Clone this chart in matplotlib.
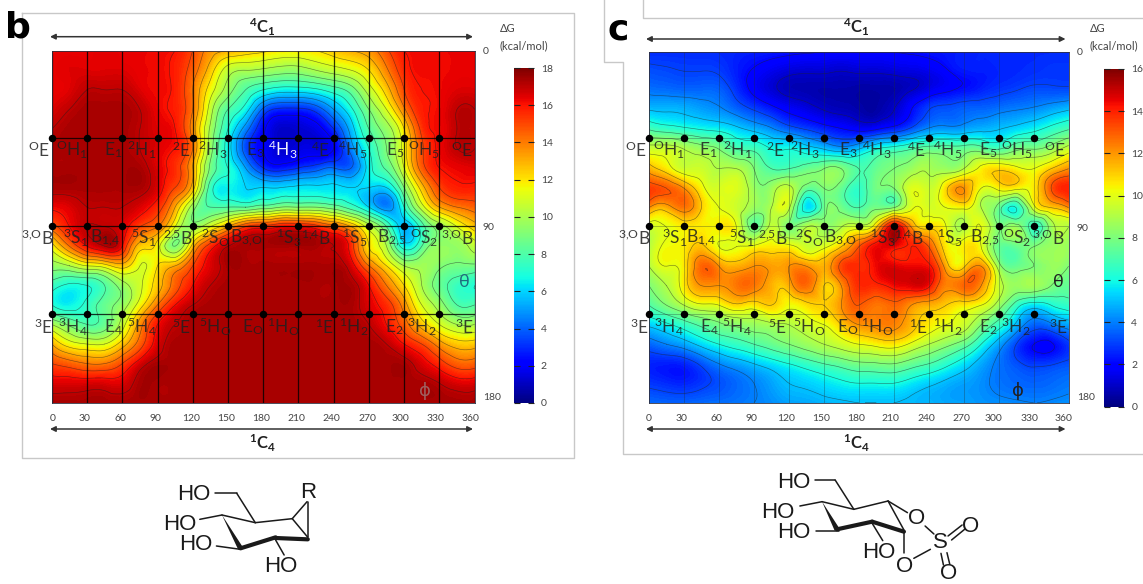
import numpy as np
import matplotlib
matplotlib.use("Agg")
import matplotlib.pyplot as plt
import matplotlib.tri as mtri
from matplotlib.cm import ScalarMappable
from matplotlib.colors import Normalize

plt.rcParams['font.family'] = 'Lato'
plt.rcParams['mathtext.default'] = 'regular'

W, H = 1143, 584

phi = list(range(0, 361, 15))
theta = list(range(0, 181, 10))

# Panel b free energy (rows: theta 0..180, columns: phi 0..360)
energy_b = [
 [16.2,16.3,16.3,16.5,16.3,16.3,16.2,16,15,13.5,13,12.5,12.2,11.8,11.8,12,12.5,13,13.5,14.8,16,16.2,16.2,16.3,16.3],
 [16.3,16.5,16.5,16.5,16.5,16.3,16.2,15.8,14.5,12.5,10.5,10,9.8,9.5,9.5,10,10.5,11,12,13.8,15.6,16.2,16.2,16.3,16.3],
 [16.3,16.5,17,17,17,16.5,16.2,15.8,14,11.5,9.5,8,7,6.5,6.5,6.8,7.5,8.5,10.5,12.5,15,16,16.2,16.5,16.5],
 [16.5,17,17.3,17.3,17.3,17,16.3,15.8,14,10.5,8,6.5,3.8,2.8,2.8,3.4,5,6.8,9,11,13.8,15.8,16.2,17,17],
 [17,17.3,17.3,17.3,17.3,17,16.5,16,13.5,9.8,7,4.5,2.2,1.2,1.3,1.6,3,5.5,8,9.5,12,15.3,16.2,17,17],
 [17.3,17.3,17.3,17.3,17.3,17,16.5,16,14,9.5,6.5,3.5,2,1.3,1.5,1.5,2,4.5,7,9,11.5,14.8,16.2,17,17],
 [17.3,17.3,17.3,17.3,17.3,17.3,16.5,15.5,13,8.8,7,5,3,2.5,3,3.5,4,4,6.5,8.2,11,14.5,16,16.3,16.5],
 [17.3,17.3,17.3,17.3,17.3,17.3,16.5,15,12.5,7.5,6.5,6,6,6,6.2,6.2,6.2,6,6,6,9,12.5,15,15.8,15.8],
 [16.2,16.5,17,17,17,16.5,15.5,13,9.5,8,8,8,8.5,9,9,9,8.5,7.5,6,4.5,7,10.5,13,14,14.5],
 [14.5,16,17,17,16.5,15,14,11,9.5,11,13,15,15.5,16,16,15.5,14.5,13,10.5,8,5.5,7.5,9.5,11,12.5],
 [11.5,14,16,17,16,12.5,11.5,9,12.5,15.5,17,17.3,17.3,17.3,17.3,17.3,17,15.5,12,10,6.5,8,9.5,9.5,10.5],
 [9.5,10,11,11.5,12.5,11,12,13,15,16.5,17.3,17.3,17.3,17.3,17.3,17.3,17.3,16.5,14,12,10,9.8,9.2,8.8,8.8],
 [7.5,6.8,7,8,9.5,10.8,12.5,14.5,16,17,17.3,17.3,17.3,17.3,17.3,17.3,17.3,17.3,16,14,12,10,8.5,7.5,7],
 [7,6.5,7.3,8.5,9.5,11.5,14,16,17,17.3,17.3,17.3,17.3,17.3,17.3,17.3,17.3,17.3,16.5,15.5,13.5,11,9.5,8,8],
 [10,8.8,8,8.5,10.5,13.5,16,17,17.3,17.3,17.3,17.3,17.3,17.3,17.3,17.3,17.3,17.3,17,16,14.5,12.5,11,10,10],
 [13,11.5,11,11,12.5,14.5,16.5,17.3,17.3,17.3,17.3,17.3,17.3,17.3,17.3,17.3,17.3,17.3,17.3,17,16,15,13.5,12.5,12.5],
 [15,14.5,14,14,15,16.5,17.3,17.3,17.3,17.3,17.3,17.3,17.3,17.3,17.3,17.3,17.3,17.3,17.3,17.3,17.3,16.5,15.5,14.5,14.5],
 [16.5,16.5,16.5,16.5,16.5,17.3,17.3,17.3,17.3,17.3,17.3,17.3,17.3,17.3,17.3,17.3,17.3,17.3,17.3,17.3,17.3,17.3,17,16.5,16.5],
 [17.3,17.3,17.3,17.3,17.3,17.3,17.3,17.3,17.3,17.3,17.3,17.3,17.3,17.3,17.3,17.3,17.3,17.3,17.3,17.3,17.3,17.3,17.3,17.3,17.3],
]

# Panel c free energy
energy_c = [
 [2.6,2.6,2.6,2.6,2.6,2.5,2.4,2.3,2.2,2.1,2,2,2,2,2,2.1,2.2,2.3,2.4,2.5,2.5,2.6,2.6,2.6,2.6],
 [3.2,3.1,3,3,2.9,2.4,1.9,1.5,1.2,1.1,1.1,1,1.1,1.1,1.2,1.3,1.5,1.9,2.3,2.4,2.5,2.6,2.7,2.8,2.8],
 [3.8,3.7,3.6,3.6,3.5,2.7,1.8,1.2,0.8,0.7,0.6,0.6,0.5,0.5,0.6,1,1.5,1.9,2.2,2.5,2.8,3,3.2,3.2,3.2],
 [5,4.9,4.8,4.5,4.2,3.6,3,2.4,1.8,1.4,1,0.8,0.6,0.5,1,2,3,3.3,3.5,3.6,3.8,4,4.2,4.6,5],
 [7,6.6,6.3,6,5.8,5.3,4.8,4.2,3.5,3,2.5,2.1,1.8,2,2.5,3.3,4.2,4.4,4.5,4.8,5,5.4,5.8,6.4,7],
 [9.5,9.5,9,8.5,8,7,6.8,6,6,5.5,5,4.5,5,6,6.5,7,7.5,7.5,7.5,7.5,7,7.8,8,8.5,9.5],
 [11.5,10.5,9.5,9.5,9,9,8,7,7,7.5,8,8,7,7.5,8,8.5,8.8,8.5,9,10.3,10.8,10.3,10,11,12],
 [13.5,13,12,10.3,9.7,9.8,8.5,8.5,9.3,7.5,8,7.5,6.5,7.8,8,9.8,9.5,10.8,12,10,10.3,10.3,10.5,13,14],
 [12,11.5,12.5,11,10,9.5,8.5,9,9.2,5.5,7.5,7.7,7,7.8,8,9.8,9.7,10,10.2,9,7.5,6,9.5,11,12],
 [9.5,10,10.5,10.5,10.5,10,7.5,9.3,8,9,8.5,9,9.5,11,14.8,12,10.8,10,9,10,8,8.5,6.5,8.5,9],
 [9,10.2,10.5,11.2,10,10,10.2,10.5,10.3,9.5,9.8,11,13,14.4,14.4,14,13,10.5,10.5,10,7.5,7.5,8,8.5,8.5],
 [9,10,10.5,12.8,12,11.5,12,11.8,12,12,11.5,13.3,13.8,14.4,14.6,14.4,14.2,11.5,10.8,12,8.5,7.5,8,8.5,8],
 [8,9,10.5,12,12,12.5,12.5,11.5,11.5,12.7,11,12,13.8,13.8,14.3,14.6,14.2,12.3,12.8,12,9.5,8.5,8.7,8,7.5],
 [7,8,9,9.8,10,10.8,10.5,11,10.2,10.7,11,12,13,12.5,12.8,12,11.5,11,10.5,10,8.5,6.5,5.5,6,6.5],
 [5.2,5.8,6.5,7.2,7.8,8.2,8.5,8.8,9,9.5,10,11,12,12.2,12.3,11.4,10.5,10,9.5,8,6.5,4.8,3.5,3.8,4.5],
 [3.5,4,4.5,5.3,6,6.5,7,7.5,8,8.5,9,9.5,10,10.3,10.5,9.8,9,8.3,7.5,6,4.5,3,2,1.9,2.8],
 [2.5,2.4,2.5,3.2,4,4.5,5,5.5,6,6.5,7,7.4,7.8,7.9,8,7.5,7,6.3,5.5,4.6,3.8,3.2,2.8,2.9,3.2],
 [2.8,2.6,2.5,2.8,3.2,3.6,4,4.5,5,5.2,5.5,5.8,6,6,6,5.6,5.2,4.8,4.5,4.2,3.8,3.6,3.5,3.6,3.8],
 [3.6,3.5,3.5,3.6,3.7,3.8,4,4.2,4.5,4.6,4.8,4.9,5,5,5,4.9,4.8,4.6,4.5,4.3,4.2,4.1,4,4.1,4.2],
]

vmax_b, vmax_c = 18, 16
xtick_values = [0, 30, 60, 90, 120, 150, 180, 210, 240, 270, 300, 330, 360]
ytick_values = [0, 90, 180]
dot_phi = list(range(0, 331, 30))
dot_theta = [44.5, 89.5, 134.5]
grid_phi = list(range(0, 361, 30))

row1 = [r'$^{O}$E', r'$^{O}$H$_{1}$', r'E$_{1}$', r'$^{2}$H$_{1}$', r'$^{2}$E', r'$^{2}$H$_{3}$', r'E$_{3}$',
        r'$^{4}$H$_{3}$', r'$^{4}$E', r'$^{4}$H$_{5}$', r'E$_{5}$', r'$^{O}$H$_{5}$', r'$^{O}$E']
row2 = [r'$^{3{,}O}$B', r'$^{3}$S$_{1}$', r'B$_{1{,}4}$', r'$^{5}$S$_{1}$', r'$^{2{,}5}$B', r'$^{2}$S$_{O}$', r'B$_{3{,}O}$',
        r'$^{1}$S$_{3}$', r'$^{1{,}4}$B', r'$^{1}$S$_{5}$', r'B$_{2{,}5}$', r'$^{O}$S$_{2}$', r'$^{3{,}O}$B']
row3 = [r'$^{3}$E', r'$^{3}$H$_{4}$', r'E$_{4}$', r'$^{5}$H$_{4}$', r'$^{5}$E', r'$^{5}$H$_{O}$', r'E$_{O}$',
        r'$^{1}$H$_{O}$', r'$^{1}$E', r'$^{1}$H$_{2}$', r'E$_{2}$', r'$^{3}$H$_{2}$', r'$^{3}$E']

# layout (pixels)
lx_b = [[39,72,113,142,181,213,255,283,320,353,395,424,462],
        [37,76,105,144,178,215,246,289,316,355,392,424,457],
        [43,73,113,142,181,215,253,283,324,354,394,422,464]]
lx_c = [[636,669,708,738,775,805,848,877,916,948,988,1017,1055],
        [634,675,701,742,773,809,840,883,909,950,985,1017,1048],
        [639,669,709,737,777,809,848,877,918,948,988,1016,1058]]
ly = [150, 238, 327]
tick_x_b = [53,84,120,155,191,226,261,296,331,367,400,435,470]
tick_x_c = [649,681,716,751,786,821,856,890,926,961,993,1029,1063]

fig = plt.figure(figsize=(W/100, H/100), dpi=100, facecolor='white')
bg = fig.add_axes([0, 0, 1, 1], zorder=0)
bg.set_xlim(0, W); bg.set_ylim(H, 0); bg.axis('off')
over = fig.add_axes([0, 0, 1, 1], zorder=5)
over.set_xlim(0, W); over.set_ylim(H, 0); over.axis('off'); over.patch.set_alpha(0)

def px_axes(x0, y0, x1, y1, **kw):
    return fig.add_axes([x0/W, 1-y1/H, (x1-x0)/W, (y1-y0)/H], **kw)

def panel(box, cbox, z, vmax, line_col, line_alpha, lw_grid, tick_x, lx, white_center):
    ax = px_axes(*box, zorder=2)
    P, T = np.meshgrid(phi, theta)
    tri = mtri.Triangulation(P.ravel().astype(float), T.ravel().astype(float))
    fine_tri, fine_z = mtri.UniformTriRefiner(tri).refine_field(np.array(z, float).ravel(), subdiv=3)
    ax.tricontourf(fine_tri, fine_z, levels=np.linspace(0, vmax, vmax*8+1), cmap='jet',
                   vmin=0, vmax=vmax, antialiased=False, extend='both')
    ax.tricontour(fine_tri, fine_z, levels=np.arange(1, vmax, 1), colors='#202020', linewidths=0.45, alpha=0.55)
    for p in grid_phi:
        ax.axvline(p, color=line_col, lw=lw_grid, alpha=line_alpha)
    for t in dot_theta:
        ax.axhline(t, color=line_col, lw=lw_grid, alpha=line_alpha)
        ax.plot(dot_phi, [t]*len(dot_phi), 'o', color='black', ms=5.4, mec='none', clip_on=False, zorder=6)
    ax.set_xlim(0, 360); ax.set_ylim(180, 0)
    to_phi = lambda x: (x-box[0])/(box[2]-box[0])*360
    ax.set_xticks([to_phi(x) for x in tick_x], [str(v) for v in xtick_values])
    ax.set_yticks([0, 90, 177], [str(v) for v in ytick_values])
    ax.yaxis.tick_right()
    ax.tick_params(length=0, labelsize=7.5, labelcolor='#444444', pad=6)
    ax.tick_params(axis='x', pad=8)
    for s in ax.spines.values():
        s.set_linewidth(0.6); s.set_color('#303040')
    cax = px_axes(*cbox, zorder=2)
    cb = fig.colorbar(ScalarMappable(Normalize(0, vmax), 'jet'), cax=cax, ticks=list(range(0, vmax+1, 2)))
    cb.outline.set_visible(False)
    cax.tick_params(direction='in', length=4, width=0.8, left=True, right=True, color='#222222',
                    labelsize=7.5, labelcolor='#444444', pad=5)
    for rowi, labs in enumerate([row1, row2, row3]):
        for x, s in zip(lx[rowi], labs):
            col = '#202020'
            alpha = 0.85
            if white_center and rowi == 0 and s == r'$^{4}$H$_{3}$':
                col, alpha = 'white', 0.95
            over.text(x, ly[rowi], s, ha='center', va='center', fontsize=12.5, color=col, alpha=alpha)

panel((51.8, 50.7, 474.6, 402.7), (514, 68, 534, 403), energy_b, vmax_b, 'black', 0.8, 0.9, tick_x_b, lx_b, True)
panel((649, 51.7, 1068.6, 402.7), (1104, 69, 1124.4, 406.7), energy_c, vmax_c, '#203030', 0.45, 0.5, tick_x_c, lx_c, False)

# frames
frame = dict(color='#c8c8c8', lw=1.0)
bg.plot([22, 573.5, 573.5, 22, 22], [13, 13, 458, 458, 13], **frame)
bg.plot([604, 604, 622.5, 622.5, 1143], [0, 62, 62, 454, 454], **frame)
bg.plot([643, 643, 1143], [0, 18, 18], **frame)

# arrows and conformer labels
def arrow(x0, x1, y):
    over.annotate('', xy=(x0, y), xytext=(x1, y),
                  arrowprops=dict(arrowstyle='<|-|>', color='#333333', lw=1.1, mutation_scale=8, shrinkA=0, shrinkB=0))
arrow(50, 473, 36.7); arrow(50, 473, 429)
arrow(646, 1065.5, 39); arrow(646, 1065.5, 429)
for x in (262, 856):
    over.text(x, 27, r'$^{4}$C$_{1}$', ha='center', va='center', fontsize=12, fontweight='bold', color='#222222')
    over.text(x, 443, r'$^{1}$C$_{4}$', ha='center', va='center', fontsize=12, fontweight='bold', color='#222222')
for x, t in ((18, 'b'), (618, 'c')):
    over.text(x, 28 if t == 'b' else 29, t, ha='center', va='center', fontsize=26, fontweight='bold',
              family='DejaVu Sans', color='black')
for x in (500, 1090):
    over.text(x, 29, 'ΔG', ha='left', va='center', fontsize=8, color='#444444')
    over.text(x, 46, '(kcal/mol)', ha='left', va='center', fontsize=8, color='#444444')
over.text(464, 282, 'θ', ha='center', va='center', fontsize=13, color='#1f6f80')
over.text(425, 391, 'ϕ', ha='center', va='center', fontsize=13, color='#a06060', family='DejaVu Sans')
over.text(1058, 282, 'θ', ha='center', va='center', fontsize=13, color='#202020')
over.text(1018, 391, 'ϕ', ha='center', va='center', fontsize=13, color='#202020', family='DejaVu Sans')

# chemical structures
def bonds(segments, sx, x0, y0, lw=1.1, color='#1a1a1a'):
    for a, b, c, d in segments:
        bg.plot([a/sx+x0, c/sx+x0], [b/3+y0, d/3+y0], color=color, lw=lw, solid_capstyle='round')

def wedge(a, b, c, d, sx, x0, y0, w=2.6, color='#1a1a1a'):
    x1, y1, x2, y2 = a/sx+x0, b/3+y0, c/sx+x0, d/3+y0
    nx, ny = -(y2-y1), x2-x1
    n = np.hypot(nx, ny); nx, ny = nx/n*w, ny/n*w
    bg.fill([x1, x2+nx, x2-nx], [y1, y2+ny, y2-ny], color=color, lw=0)

bonds([(582,790,640,790),(640,790,690,878),(690,878,790,866),(790,866,830,815),(790,866,832,922),
       (832,815,832,922),(690,878,600,855),(600,855,540,868),(585,948,650,958),(745,930,768,975)], 2.703, 0, 230)
wedge(600,855,650,955,2.703,0,230)
bonds([(650,955,745,922),(745,924,832,928)], 2.703, 0, 230, lw=3.0)
bonds([(637,750,695,750),(695,750,748,838),(748,838,845,813),(845,813,900,848),(845,813,890,900),
       (748,838,658,815),(658,815,595,828),(640,902,705,902),(800,880,830,932),(890,905,890,968),
       (950,888,975,912),(918,985,965,958),(1015,918,1055,885),(1025,930,1062,898),
       (995,970,1002,1005),(1012,968,1020,1003)], 2.835, 590, 230)
wedge(658,815,700,898,2.835,590,230)
bonds([(700,898,800,875),(800,875,890,905)], 2.835, 590, 230, lw=3.0)

chem = dict(ha='center', va='center', fontsize=16, family='Liberation Sans', color='#1a1a1a')
for x, y, t in [(194,495,'HO'),(180,525,'HO'),(196,545,'HO'),(281,567,'HO'),(308,492,'R'),
                (794,482,'HO'),(778,512,'HO'),(794,532,'HO'),(879,553,'HO'),
                (917,519,'O'),(971,527,'O'),(940,543,'S'),(905,567,'O'),(949,573.5,'O')]:
    over.text(x, y, t, **chem)

fig.savefig('out.png', dpi=100, facecolor='white')
